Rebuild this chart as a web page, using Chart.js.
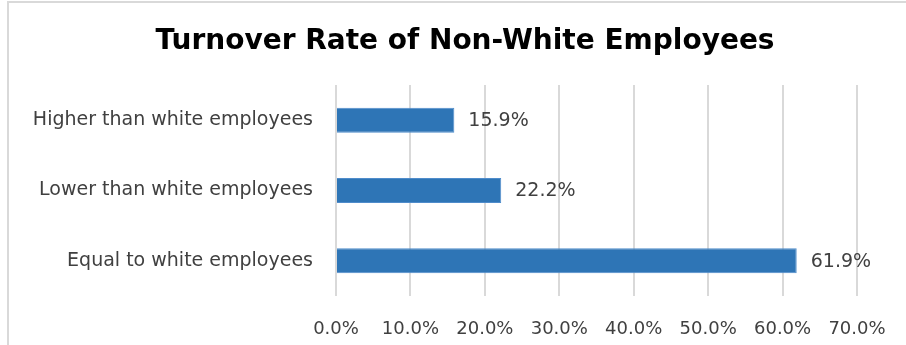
<!DOCTYPE html>
<html>
<head>
<meta charset="utf-8">
<script src="https://cdn.jsdelivr.net/npm/chart.js@4.4.0/dist/chart.umd.min.js"></script>
<style>
  html, body { margin: 0; padding: 0; background: #fff; }
  #wrap { position: relative; width: 906px; height: 345px; }
  #frame { position: absolute; left: 7px; top: 1px; right: -4px; bottom: -4px;
           border-top: 2px solid #d9d9d9; border-left: 2px solid #d9d9d9; pointer-events: none; }
  canvas { position: absolute; left: 0; top: 0; }
</style>
</head>
<body>
<div id="wrap">
  <canvas id="chart" width="906" height="345"></canvas>
  <div id="frame"></div>
</div>
<script>
    'use strict';

    var chartTitle = 'Turnover Rate of Non-White Employees';
    var categories = ['Higher than white employees', 'Lower than white employees', 'Equal to white employees'];
    var values = [15.9, 22.2, 61.9];
    var axisMax = 70;
    var axisStep = 10;

    var labelFont = '"DejaVu Sans", sans-serif';

    // Draw the value next to the end of each bar
    var valueLabels = {
        id: 'valueLabels',
        afterDatasetsDraw: function(chart) {
            var ctx = chart.ctx;
            var meta = chart.getDatasetMeta(0);
            ctx.save();
            ctx.font = '19px ' + labelFont;
            ctx.fillStyle = '#404040';
            ctx.textAlign = 'left';
            ctx.textBaseline = 'middle';
            meta.data.forEach(function(bar, i) {
                ctx.fillText(values[i].toFixed(1) + '%', bar.x + 14, bar.y + 1);
            });
            ctx.restore();
        }
    };

    // Title centred on the whole picture, not on the padded area
    var pageTitle = {
        id: 'pageTitle',
        afterDraw: function(chart) {
            var ctx = chart.ctx;
            ctx.save();
            ctx.font = 'bold 28px ' + labelFont;
            ctx.fillStyle = '#000';
            ctx.textAlign = 'center';
            ctx.textBaseline = 'middle';
            ctx.fillText(chartTitle, 465, 42);
            ctx.restore();
        }
    };

    new Chart(document.getElementById('chart'), {
        type: 'bar',
        data: {
            labels: categories,
            datasets: [{
                data: values,
                backgroundColor: '#2e75b6',
                borderColor: '#4f8ccb',
                borderWidth: 1,
                barPercentage: 0.355,
                categoryPercentage: 1
            }]
        },
        options: {
            indexAxis: 'y',
            responsive: false,
            animation: false,
            layout: { padding: { left: 0, right: 49, top: 85, bottom: 0 } },
            plugins: {
                legend: { display: false },
                tooltip: { enabled: false },
                title: { display: false }
            },
            scales: {
                x: {
                    min: 0,
                    max: axisMax,
                    grid: { color: '#d9d9d9', lineWidth: 2, drawTicks: false },
                    border: { display: false },
                    ticks: {
                        stepSize: axisStep,
                        padding: 23,
                        color: '#404040',
                        font: { family: labelFont, size: 18 },
                        callback: function(v) { return v.toFixed(1) + '%'; }
                    },
                    afterFit: function(scale) {
                        scale.height = 49;
                        scale.paddingLeft = 0;
                        scale.paddingRight = 0;
                    }
                },
                y: {
                    grid: { display: false, drawTicks: false },
                    border: { display: false },
                    ticks: {
                        padding: 23,
                        color: '#404040',
                        font: { family: labelFont, size: 19 }
                    },
                    afterFit: function(scale) { scale.width = 336; }
                }
            }
        },
        plugins: [valueLabels, pageTitle]
    });
</script>
</body>
</html>
